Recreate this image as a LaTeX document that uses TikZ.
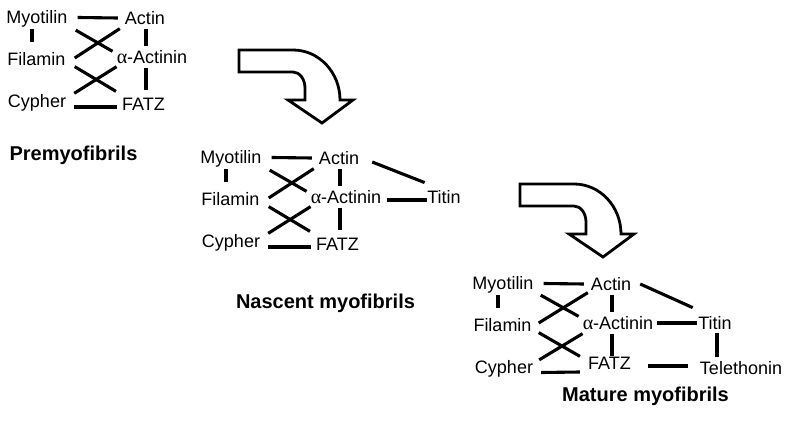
\documentclass[tikz,border=0pt]{standalone}
\usepackage{fontspec}
\setmainfont{Liberation Sans}
\newfontfamily\greekserif{Liberation Serif}
\newcommand{\aact}{{\greekserif\fontsize{20}{22}\selectfont α}-Actinin}

\begin{document}
\begin{tikzpicture}[x=1pt,y=-1pt,
  prot/.style={inner sep=0pt,font=\fontsize{18}{21}\selectfont,text height=12.9pt,text depth=0pt},
  stage/.style={inner sep=0pt,font=\fontsize{20}{24}\selectfont\bfseries,text height=14.3pt,text depth=0pt},
  bond/.style={line width=3.1pt},
  bendarrow/.pic={
    \draw[line width=2.8pt] (0,0) -- (54,0) .. controls (80,0) and (101,22.4) .. (101,50)
      -- (114,50) -- (83,73) -- (49,50) -- (66,50) -- (66,38)
      .. controls (66,29.2) and (60.6,22) .. (54,22) -- (0,22) -- cycle;
  }]

        \useasboundingbox (0,0) rectangle (792,422);

        % premyofibrils
        \node[prot] (myoA) at (37, 17.5) {Myotilin};
        \node[prot] (actA) at (145, 18) {Actin};
        \node[prot] (filA) at (36.5, 59) {Filamin};
        \node[prot] (aacA) at (152, 57) {\aact};
        \node[prot] (cypA) at (37, 101) {Cypher};
        \node[prot] (fatzA) at (143.5, 104) {FATZ};

        \draw[bond] ([shift={(10,0)}]myoA.east) -- ([shift={(-7,0)}]actA.west);
        \draw[bond] ([shift={(-5,5)}]myoA.south) -- ([shift={(-4.5,-10)}]filA.north);
        \draw[bond] ([shift={(1,4)}]actA.south) -- ([shift={(-6,-4)}]aacA.north);
        \draw[bond] ([shift={(-6,4)}]aacA.south) -- ([shift={(2.5,-7)}]fatzA.north);
        \draw[bond] ([shift={(8,6)}]myoA.south east) -- ([shift={(-4,1)}]aacA.north west);
        \draw[bond] ([shift={(9,-1)}]filA.east) -- ([shift={(-5,4)}]actA.south west);
        \draw[bond] ([shift={(9,1)}]filA.south east) -- ([shift={(-6,-6)}]fatzA.north west);
        \draw[bond] ([shift={(8,-1)}]cypA.north east) -- ([shift={(0,3)}]aacA.south west);
        \draw[bond] ([shift={(8,6)}]cypA.east) -- ([shift={(-5,3)}]fatzA.west);

        \node[stage] (preA) at (73.5, 153.5) {Premyofibrils};

        \pic at (239, 50) {bendarrow};

        % nascent myofibrils
        \begin{scope}[shift={(194,140)}]
        \node[prot] (myoB) at (37, 17.5) {Myotilin};
        \node[prot] (actB) at (145, 18) {Actin};
        \node[prot] (filB) at (36.5, 59) {Filamin};
        \node[prot] (aacB) at (152, 57) {\aact};
        \node[prot] (cypB) at (37, 101) {Cypher};
        \node[prot] (fatzB) at (143.5, 104) {FATZ};
        \node[prot] (titB) at (250, 57) {Titin};

        \draw[bond] ([shift={(10,0)}]myoB.east) -- ([shift={(-7,0)}]actB.west);
        \draw[bond] ([shift={(-5,5)}]myoB.south) -- ([shift={(-4.5,-10)}]filB.north);
        \draw[bond] ([shift={(1,4)}]actB.south) -- ([shift={(-6,-4)}]aacB.north);
        \draw[bond] ([shift={(-6,4)}]aacB.south) -- ([shift={(2.5,-7)}]fatzB.north);
        \draw[bond] ([shift={(8,6)}]myoB.south east) -- ([shift={(-4,1)}]aacB.north west);
        \draw[bond] ([shift={(9,-1)}]filB.east) -- ([shift={(-5,4)}]actB.south west);
        \draw[bond] ([shift={(9,1)}]filB.south east) -- ([shift={(-6,-6)}]fatzB.north west);
        \draw[bond] ([shift={(8,-1)}]cypB.north east) -- ([shift={(0,3)}]aacB.south west);
        \draw[bond] ([shift={(8,6)}]cypB.east) -- ([shift={(-5,3)}]fatzB.west);
        \draw[bond] ([shift={(13,4)}]actB.east) -- ([shift={(-2.5,-7.75)}]titB.north west);
        \draw[bond] ([shift={(6,3)}]aacB.east) -- ([shift={(-0.5,3)}]titB.west);

        \node[stage] (nasB) at (131.5, 161) {Nascent myofibrils};
        \end{scope}

        \pic at (520, 184) {bendarrow};

        % mature myofibrils
        \begin{scope}[shift={(466,266)}]
        \node[prot] (myoC) at (37, 17.5) {Myotilin};
        \node[prot] (actC) at (145, 18) {Actin};
        \node[prot] (filC) at (36.5, 59) {Filamin};
        \node[prot] (aacC) at (152, 57) {\aact};
        \node[prot] (cypC) at (38, 101.5) {Cypher};
        \node[prot] (fatzC) at (143.5, 97) {FATZ};
        \node[prot] (titC) at (249, 57) {Titin};
        \node[prot] (telC) at (275, 102) {Telethonin};

        \draw[bond] ([shift={(10,0)}]myoC.east) -- ([shift={(-7,0)}]actC.west);
        \draw[bond] ([shift={(-5,5)}]myoC.south) -- ([shift={(-4.5,-10)}]filC.north);
        \draw[bond] ([shift={(1,4)}]actC.south) -- ([shift={(-6,-4)}]aacC.north);
        \draw[bond] ([shift={(-6,4)}]aacC.south) -- ([shift={(2.5,0)}]fatzC.north);
        \draw[bond] ([shift={(7,5)}]myoC.south east) -- ([shift={(-4,0)}]aacC.north west);
        \draw[bond] ([shift={(7,-2)}]filC.east) -- ([shift={(-3,2)}]actC.south west);
        \draw[bond] ([shift={(7,1)}]filC.south east) -- ([shift={(-8,0)}]fatzC.north west);
        \draw[bond] ([shift={(6,-1)}]cypC.north east) -- ([shift={(0,4)}]aacC.south west);
        \draw[bond] ([shift={(8,5)}]cypC.east) -- ([shift={(-8,9)}]fatzC.west);
        \draw[bond] ([shift={(9,0)}]actC.east) -- ([shift={(-5.5,-8.75)}]titC.north west);
        \draw[bond] ([shift={(4,0)}]aacC.east) -- ([shift={(-1.5,0)}]titC.west);
        \draw[bond] ([shift={(2,3)}]titC.south) -- ([shift={(-24,-4.75)}]telC.north);
        \draw[bond] ([shift={(17,3)}]fatzC.east) -- ([shift={(-12,-2)}]telC.west);

        \node[stage] (matC) at (179.5, 128) {Mature myofibrils};
        \end{scope}
      \end{tikzpicture}
\end{document}
